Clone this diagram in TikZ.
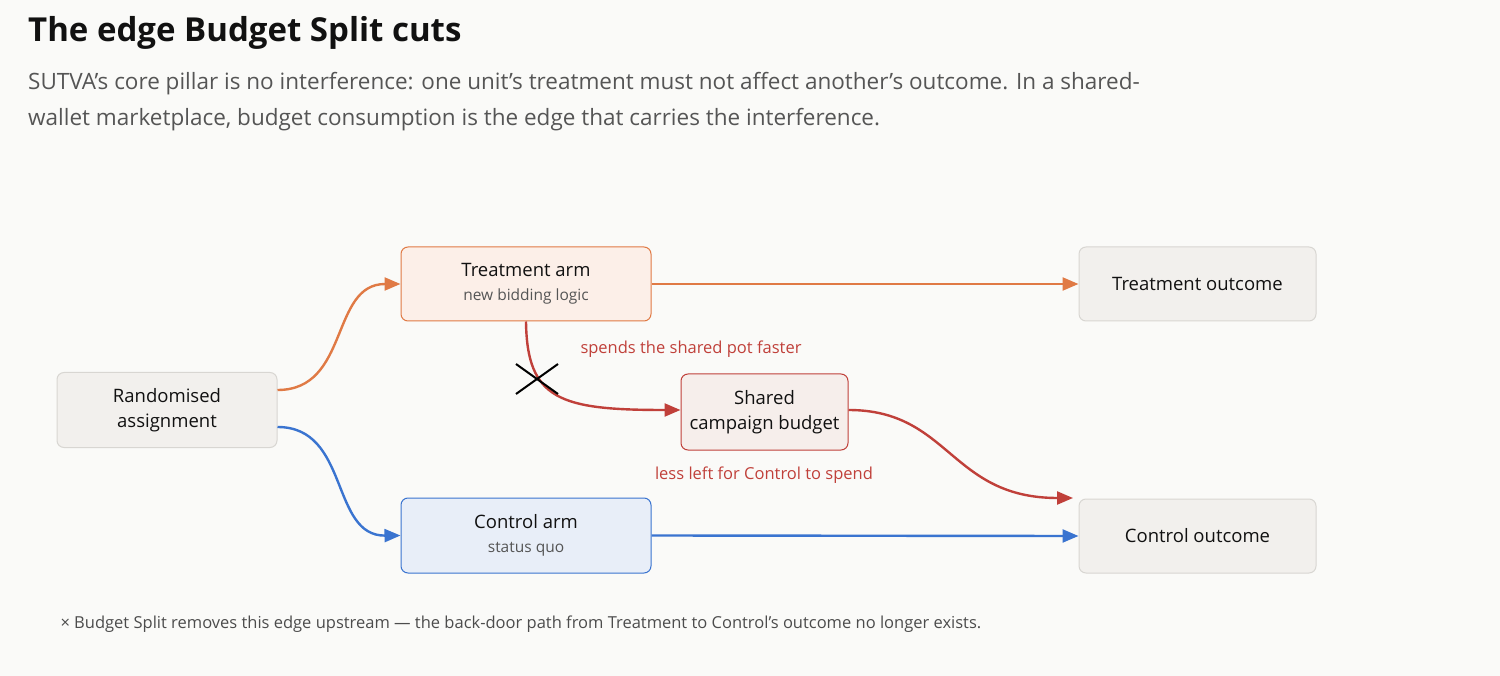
\documentclass[tikz,border=0pt]{standalone}
\usepackage{fontspec}
\setmainfont{Open Sans}
\usetikzlibrary{arrows.meta}
\definecolor{bg}{HTML}{FAFAF8}
\definecolor{nfill}{HTML}{F2F0ED}
\definecolor{nbord}{HTML}{D8D6D2}
\definecolor{org}{HTML}{E07A45}
\definecolor{orgf}{HTML}{FCEFE8}
\definecolor{blu}{HTML}{3A74D0}
\definecolor{bluf}{HTML}{E8EEF8}
\definecolor{rd}{HTML}{C0403A}
\definecolor{rdf}{HTML}{F6EEEB}
\definecolor{txt}{HTML}{111111}
\definecolor{sub}{HTML}{555555}
\tikzset{x=1pt,y=-1pt,
 box/.style={draw=nbord,fill=nfill,rounded corners=7pt,line width=1pt,align=center,text=txt,font=\fontsize{18.5}{25}\selectfont,inner sep=0pt},
 arr/.style={line width=2.4pt,-{Triangle[length=16pt,width=13pt]}},
 lab/.style={text=rd,font=\fontsize{16.5}{20}\selectfont}}
\begin{document}
\begin{tikzpicture}
\useasboundingbox[fill=bg] (0,0) rectangle (1500,676);
\node[anchor=base west,inner sep=0pt,font=\fontsize{33}{38}\bfseries\selectfont,text=txt] (title) at (28,42) {The edge Budget Split cuts};
\node[anchor=north west,inner sep=0pt,font=\fontsize{22.5}{36}\selectfont,text=sub,align=left] (subt) at (28,72) {SUTVA's core pillar is no interference: one unit's treatment must not affect another's outcome. In a shared-\\wallet marketplace, budget consumption is the edge that carries the interference.};
\node[box,minimum width=220pt,minimum height=75pt] (ra) at (167,410) {Randomised\\assignment};
\node[box,draw=org,fill=orgf,minimum width=250pt,minimum height=74pt] (ta) at (526,284) {Treatment arm\\[-1pt]{\fontsize{15.5}{20}\selectfont\color{sub}new bidding logic}};
\node[box,draw=blu,fill=bluf,minimum width=250pt,minimum height=75pt] (ca) at (526,535.5) {Control arm\\[-1pt]{\fontsize{15.5}{20}\selectfont\color{sub}status quo}};
\node[box,minimum width=237pt,minimum height=74pt] (to) at (1197.5,284) {Treatment outcome};
\node[box,minimum width=237pt,minimum height=74pt] (co) at (1197.5,536) {Control outcome};
\node[box,draw=rd,fill=rdf,minimum width=167pt,minimum height=76pt] (sb) at (764.5,412) {Shared\\campaign budget};
\draw[arr,org] (ra.east|-0,390) .. controls (350,390) and (330,284) .. (ta.west);
\draw[arr,blu] (ra.east|-0,427) .. controls (350,427) and (330,536) .. (ca.west);
\draw[arr,org] (ta.east) -- (to.west);
\draw[arr,blu] (ca.east) -- (co.west);
\draw[arr,rd] (ta.south) .. controls (527,400) and (560,410) .. (sb.west|-0,410);
\draw[arr,rd] (sb.east|-0,410) .. controls (950,410) and (950,498) .. (1073,498);
\node[lab] (l1) at (691,349) {spends the shared pot faster};
\node[lab] (l2) at (764,475) {less left for Control to spend};
\draw[line width=2pt,black] (516,364) -- (558,394) (516,394) -- (558,364);
\node[anchor=base west,font=\fontsize{16.5}{20}\selectfont,text=sub!90!black] (fn) at (57,628) {× Budget Split removes this edge upstream — the back-door path from Treatment to Control's outcome no longer exists.};
\end{tikzpicture}
\end{document}
